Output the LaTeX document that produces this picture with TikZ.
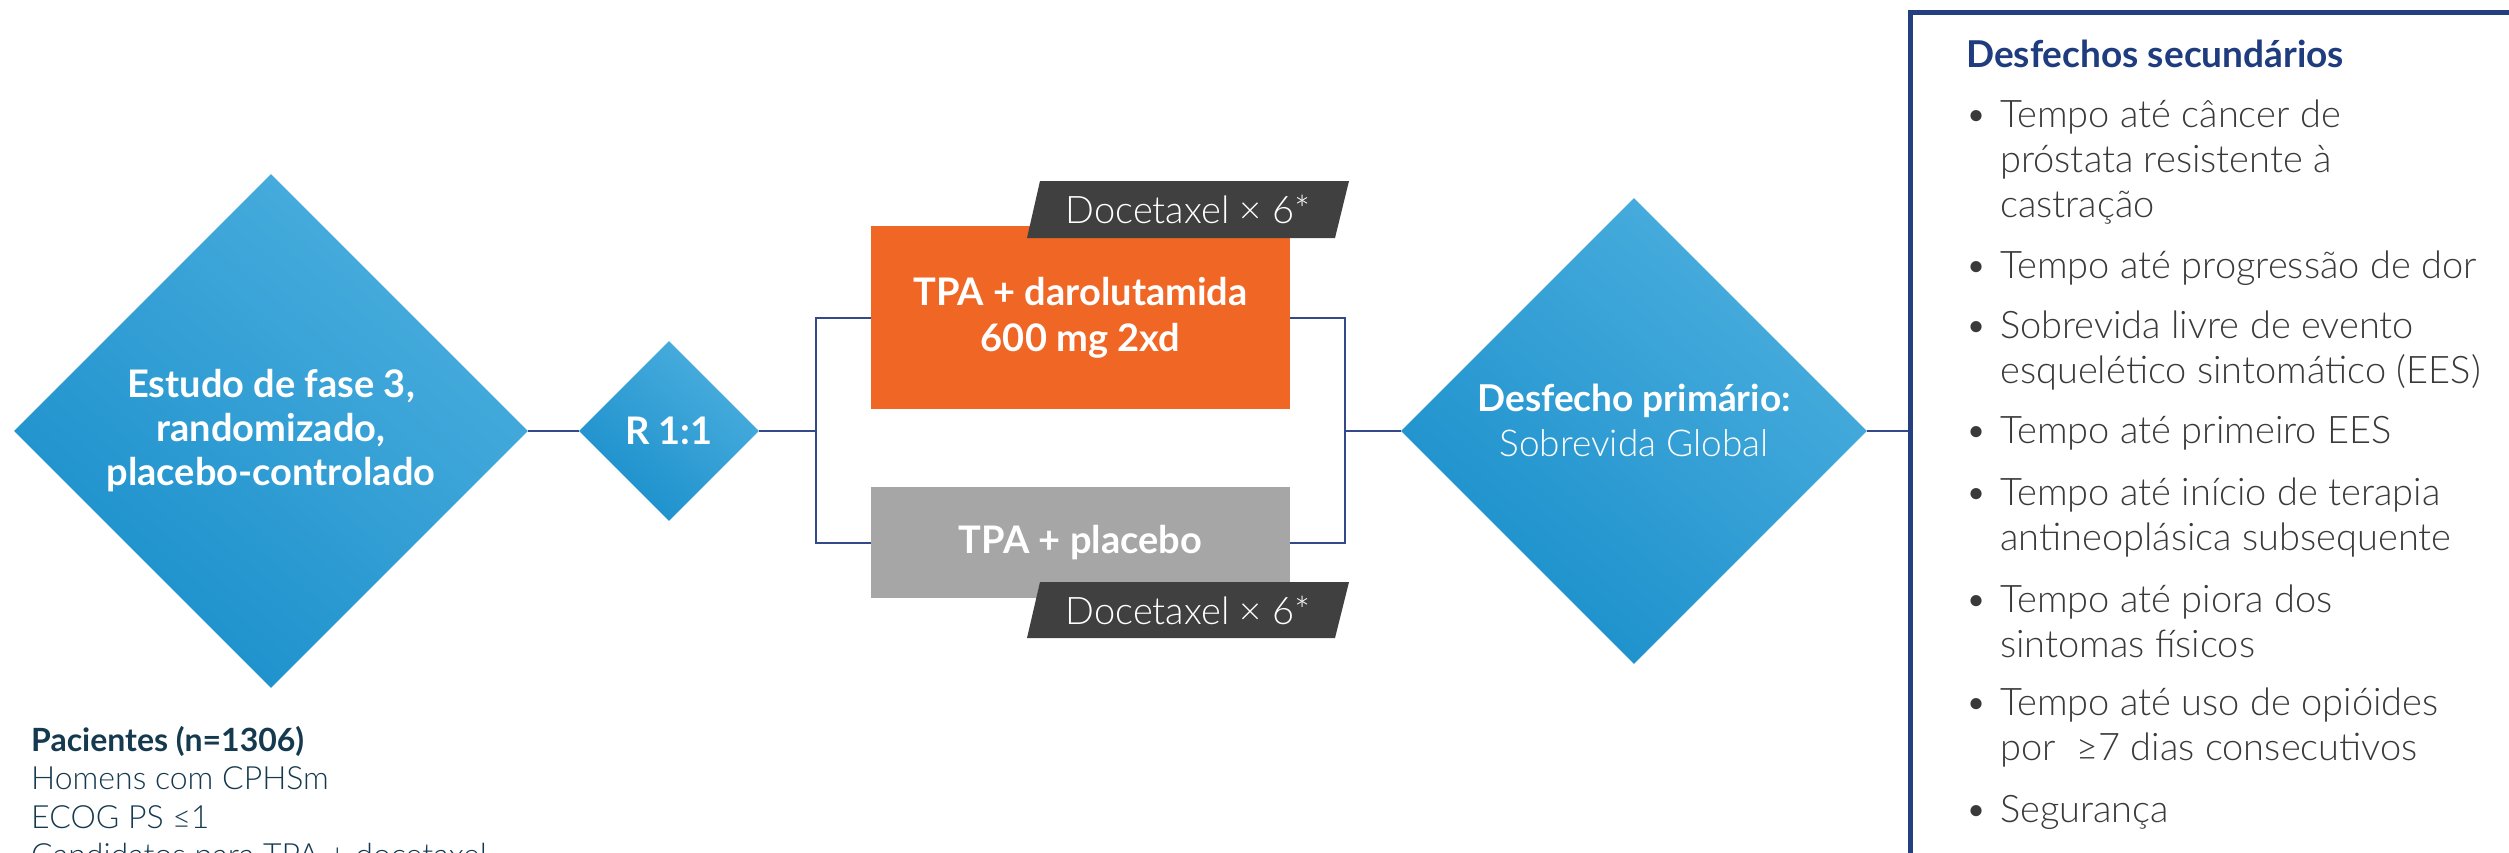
\documentclass[tikz,border=0pt]{standalone}
\usepackage{fontspec}
\setmainfont{Lato}[UprightFont=* Light, BoldFont=* Bold]
\usetikzlibrary{shapes.geometric}

\definecolor{bluelight}{HTML}{4BAEDE}
\definecolor{bluedark}{HTML}{1A8FCB}
\definecolor{armorange}{HTML}{F06624}
\definecolor{armgray}{HTML}{A6A6A6}
\definecolor{tagdark}{HTML}{404040}
\definecolor{connnavy}{HTML}{34498A}
\definecolor{boxnavy}{HTML}{233F80}
\definecolor{titlenavy}{HTML}{1F3C7E}
\definecolor{patnavy}{HTML}{15394F}
\definecolor{bodygray}{HTML}{3A3A3A}

\begin{document}
\begin{tikzpicture}[x=1pt,y=-1pt,
  bluediamond/.style={diamond, aspect=1, inner sep=0pt, text=white, align=center,
    top color=bluelight, bottom color=bluedark, shading angle=-40},
  armbox/.style={rectangle, inner sep=0pt, text=white, align=center,
    font=\fontsize{38}{46}\selectfont\bfseries},
  tagbox/.style={fill=tagdark},
  tagtext/.style={text=white, inner sep=0pt, anchor=base, font=\fontsize{38}{44}\selectfont},
  conn/.style={draw=connnavy, line width=2pt},
  item/.style={anchor=base west, inner sep=0pt, text=bodygray},
]
\useasboundingbox (0,0) rectangle (2509,852);
\clip (0,0) rectangle (2509,852);

% study design diamonds
\node[bluediamond, minimum width=514pt, minimum height=514pt,
  font=\fontsize{38}{44}\selectfont\bfseries] (study) at (271,431)
  {Estudo de fase 3,\\randomizado,\\placebo-controlado};
\node[bluediamond, minimum width=180pt, minimum height=180pt,
  font=\fontsize{38}{44}\selectfont\bfseries] (rand) at (669,431) {R 1:1};

% treatment arms
\node[armbox, fill=armorange, minimum width=419pt, minimum height=183pt] (dar) at (1080.5,317.5)
  {TPA + darolutamida\\600 mg 2xd};
\node[armbox, fill=armgray, minimum width=419pt, minimum height=111pt] (pla) at (1080.5,542.5)
  {TPA + placebo};

% docetaxel tags
\fill[tagbox] (1040,181) -- (1349,181) -- (1335,238) -- (1027,238) -- cycle;
\node[tagtext] (tagA) at (1188,223) {Docetaxel × 6*};
\fill[tagbox] (1040,582) -- (1349,582) -- (1335,638) -- (1027,638) -- cycle;
\node[tagtext] (tagB) at (1188,624) {Docetaxel × 6*};

% primary endpoint (text anchored on the baseline of its last line)
\node[bluediamond, minimum width=466pt, minimum height=466pt] (prim) at (1634,431) {};
\node[text=white, align=center, inner sep=0pt, anchor=base,
  font=\fontsize{37}{45}\selectfont] (primtext) at (1634,456)
  {\textbf{Desfecho primário:}\\Sobrevida Global};

% secondary endpoints panel
\node[draw=boxnavy, line width=5pt, fill=white, minimum width=660pt, minimum height=900pt,
  anchor=north west, inner sep=0pt] (sec) at (1907.5,10) {};

% connectors
\coordinate (splitL) at (816,431);
\coordinate (splitR) at (1345,431);
\draw[conn] (study.east) -- (rand.west);
\draw[conn] (rand.east) -- (splitL);
\draw[conn] (dar.west) -| (splitL) |- (pla.west);
\draw[conn] (dar.east) -| (splitR) |- (pla.east);
\draw[conn] (splitR) -- (prim.west);
\draw[conn] (prim.east) -- (prim.east -| sec.west);

% secondary endpoints text
\node[anchor=base west, inner sep=0pt, text=titlenavy,
  font=\fontsize{37}{40}\selectfont\bfseries] (sectitle) at (1966,67) {Desfechos secundários};

\newcommand{\bulletitem}[1]{\fontsize{38}{45}\selectfont\llap{\makebox[35pt][l]{•}}\parbox[t]{520pt}{\raggedright\fontsize{38}{45}\selectfont #1}}

\node[item] (it1) at (2000,127) {\bulletitem{Tempo até câncer de\\próstata resistente à\\castração}};
\node[item] (it2) at (2000,278) {\bulletitem{Tempo até progressão de dor}};
\node[item] (it3) at (2000,338) {\bulletitem{Sobrevida livre de evento\\esquelético sintomático (EES)}};
\node[item] (it4) at (2000,443) {\bulletitem{Tempo até primeiro EES}};
\node[item] (it5) at (2000,505) {\bulletitem{Tempo até início de terapia\\antineoplásica subsequente}};
\node[item] (it6) at (2000,612) {\bulletitem{Tempo até piora dos\\sintomas físicos}};
\node[item] (it7) at (2000,715) {\bulletitem{Tempo até uso de opióides\\por\ \ ≥7 dias consecutivos}};
\node[item] (it8) at (2000,822) {\bulletitem{Segurança}};

% patient population
\node[anchor=base west, inner sep=0pt, text=patnavy] (patients) at (31,751)
  {\parbox[t]{800pt}{\fontsize{32}{38.5}\selectfont\textbf{Pacientes (n=1306)}\\Homens com CPHSm\\ECOG PS ≤1\\Candidatos para TPA + docetaxel}};
\end{tikzpicture}
\end{document}
